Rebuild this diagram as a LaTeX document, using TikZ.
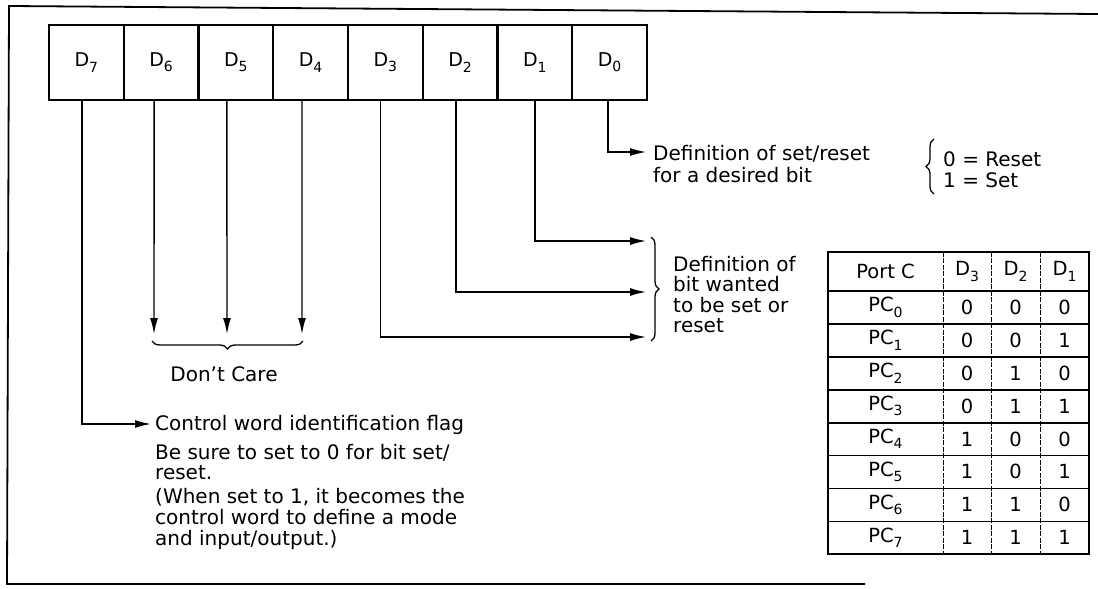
\documentclass[tikz,border=0pt]{standalone}
\usepackage{fontspec}
\setmainfont{DejaVu Sans}
\usetikzlibrary{arrows.meta,decorations.pathreplacing,calc}
\newcommand\sbs[1]{\raisebox{-0.5ex}{\fontsize{14}{14}\selectfont #1}}
\begin{document}
\begin{tikzpicture}[x=1pt,y=-1pt,
  every node/.style={inner sep=0pt,font=\fontsize{20}{22}\selectfont},
  frame/.style={line width=1.8pt},
  cell/.style={draw,line width=2.2pt,minimum width=74.75pt,minimum height=75pt,font=\fontsize{19}{19}\selectfont},
  wire/.style={line width=1.4pt},
  arr/.style={wire,-{Latex[length=16pt,width=8pt]}},
  brc/.style={decorate,decoration={brace,amplitude=8pt},line width=1.3pt},
  lbl/.style={anchor=west,align=left},
  tcell/.style={minimum height=32.875pt,font=\fontsize{19.5}{19.5}\selectfont},
  tline/.style={line width=1.6pt},
  cline/.style={line width=1pt,dash pattern=on 5pt off 1.5pt}]
\useasboundingbox (0,0) rectangle (1098,589);
% outer frame
\draw[frame] (1098,14) -- (9,6) -- (7,584) -- (865,584);
% register cells
\foreach \i/\n in {0/7,1/6,2/5,3/4,4/3,5/2,6/1,7/0}
  \node[cell] (d\n) at ({49+74.75*(\i+0.5)},62.5) {D\sbs{\n}};
% end points
\coordinate (e0) at (646,152);
\coordinate (e1) at (646,241);
\coordinate (e2) at (646,292);
\coordinate (e3) at (646,337);
\coordinate (e7) at (151,424);
\coordinate (k6) at (154,334);
\coordinate (k5) at (227,334);
\coordinate (k4) at (302,334);
% connectors
\draw[arr] ([xshift=-1.6pt]d0.south) |- (e0);
\draw[arr] (d1.south) |- (e1);
\draw[arr] ([xshift=-4pt]d2.south) |- (e2);
\draw[arr] ([xshift=-5pt]d3.south) |- (e3);
\draw[arr] ([xshift=-7pt]d6.south) -- (k6);
\draw[arr] ([xshift=-9pt]d5.south) -- (k5);
\draw[arr] ([xshift=-8.6pt]d4.south) -- (k4);
\draw[arr] ([xshift=-4.4pt]d7.south) |- (e7);
% texts
\node[lbl] (t0) at (653,164) {Definition of set/reset\\for a desired bit};
\draw[brc] (934,194) -- (934,139);
\node[lbl,font=\fontsize{20}{21}\selectfont] (t0b) at (943,169.5) {0 = Reset\\1 = Set};
\draw[brc] (651,237) -- (651,341);
\node[lbl,font=\fontsize{20}{20.5}\selectfont] (t1) at (673,294.5) {Definition of\\bit wanted\\to be set or\\reset};
\draw[brc] (303,341) -- (152,341);
\node (dc) at (224,374) {Don't Care};
\node[lbl] (t7) at (155,425) {Control word identification flag};
\node[lbl,font=\fontsize{20}{20}\selectfont] (t8) at (155,462) {Be sure to set to 0 for bit set/\\reset.};
\node[lbl,font=\fontsize{20}{21}\selectfont] (t9) at (155,519) {(When set to 1, it becomes the\\control word to define a mode\\and input/output.)};
% table
\node[tcell,minimum width=115pt,minimum height=39pt] (hp) at (885.5,271.5) {Port C};
\node[tcell,minimum width=48pt,minimum height=39pt] (h3) at (967,271.5) {D\sbs{3}};
\node[tcell,minimum width=49pt,minimum height=39pt] (h2) at (1015.5,271.5) {D\sbs{2}};
\node[tcell,minimum width=49pt,minimum height=39pt] (h1) at (1064.5,271.5) {D\sbs{1}};
\foreach \r/\a/\b/\c in {0/0/0/0,1/0/0/1,2/0/1/0,3/0/1/1,4/1/0/0,5/1/0/1,6/1/1/0,7/1/1/1}{
  \node[tcell,minimum width=115pt] (p\r) at (885.5,{291+32.875*(\r+0.5)}) {PC\sbs{\r}};
  \node[tcell,minimum width=48pt] (a\r) at (967,{291+32.875*(\r+0.5)}) {\a};
  \node[tcell,minimum width=49pt] (b\r) at (1015.5,{291+32.875*(\r+0.5)}) {\b};
  \node[tcell,minimum width=49pt] (c\r) at (1064.5,{291+32.875*(\r+0.5)}) {\c};
}
\draw[tline] (hp.north west) rectangle (c7.south east);
\draw[tline] (hp.south west) -- (h1.south east);
\foreach \r in {0,...,6} \draw[tline] (p\r.south west) -- (c\r.south east);
\draw[cline] (hp.north east) -- (p7.south east);
\draw[cline] (h3.north east) -- (a7.south east);
\draw[cline] (h2.north east) -- (b7.south east);
\end{tikzpicture}
\end{document}
